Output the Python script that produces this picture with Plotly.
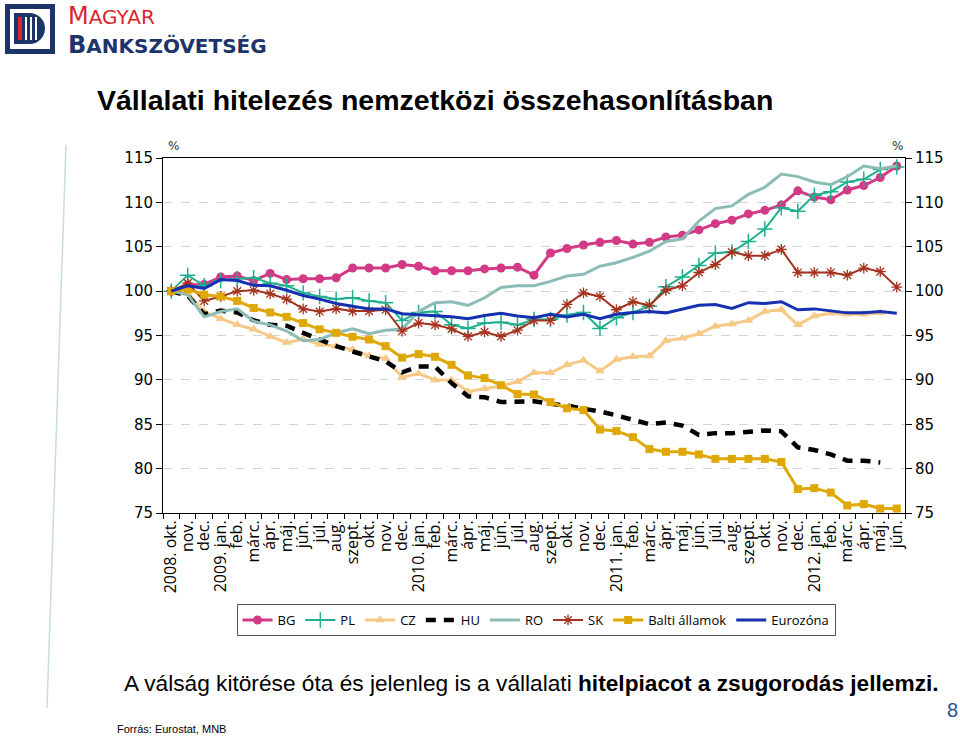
import plotly.graph_objects as go

# ---------------- data ----------------
periods = ["2008-10", "2008-11", "2008-12",
           "2009-01", "2009-02", "2009-03", "2009-04", "2009-05", "2009-06",
           "2009-07", "2009-08", "2009-09", "2009-10", "2009-11", "2009-12",
           "2010-01", "2010-02", "2010-03", "2010-04", "2010-05", "2010-06",
           "2010-07", "2010-08", "2010-09", "2010-10", "2010-11", "2010-12",
           "2011-01", "2011-02", "2011-03", "2011-04", "2011-05", "2011-06",
           "2011-07", "2011-08", "2011-09", "2011-10", "2011-11", "2011-12",
           "2012-01", "2012-02", "2012-03", "2012-04", "2012-05", "2012-06"]

tick_labels = ["2008. okt.", "nov.", "dec.",
               "2009. jan.", "feb.", "márc.", "ápr.", "máj.", "jún.", "júl.", "aug.", "szept.", "okt.", "nov.", "dec.",
               "2010. jan.", "feb.", "márc.", "ápr.", "máj.", "jún.", "júl.", "aug.", "szept.", "okt.", "nov.", "dec.",
               "2011. jan.", "feb.", "márc.", "ápr.", "máj.", "jún.", "júl.", "aug.", "szept.", "okt.", "nov.", "dec.",
               "2012. jan.", "feb.", "márc.", "ápr.", "máj.", "jún."]

BG = [100, 100.7, 100.75, 101.6, 101.7, 101.2, 102.0, 101.3, 101.4, 101.4,
      101.5, 102.6, 102.6, 102.6, 103.0, 102.8, 102.3, 102.3, 102.3, 102.5,
      102.6, 102.7, 101.8, 104.3, 104.8, 105.2, 105.5, 105.7, 105.3, 105.5,
      106.1, 106.3, 106.9, 107.6, 108.0, 108.7, 109.1, 109.7, 111.3, 110.6,
      110.3, 111.4, 111.9, 112.8, 114.1]

PL = [100, 101.8, 100.6, 101.2, 101.4, 101.5, 100.9, 100.6, 99.8, 99.4,
      99.1, 99.25, 98.9, 98.7, 96.7, 97.6, 97.7, 96.2, 95.8, 96.4,
      96.5, 96.2, 96.8, 96.8, 97.3, 97.6, 95.8, 97.0, 97.6, 98.3,
      100.5, 101.6, 102.9, 104.3, 104.4, 105.6, 107.0, 109.4, 109.0, 110.8,
      111.2, 112.3, 112.6, 113.7, 114.0]

CZ = [100, 99.8, 97.7, 96.9, 96.2, 95.7, 94.9, 94.2, 94.6, 94.0,
      93.8, 93.4, 92.7, 92.4, 90.3, 90.7, 90.0, 90.0, 88.7, 89.0,
      89.3, 89.8, 90.8, 90.8, 91.7, 92.2, 91.0, 92.3, 92.6, 92.7,
      94.4, 94.7, 95.2, 96.05, 96.3, 96.7, 97.7, 97.9, 96.2, 97.2,
      97.5, 97.4, 97.4, 97.55, None]

HU = [100, 99.5, 97.4, 97.8, 97.6, 96.7, 96.2, 96.1, 95.3, 94.55,
      93.8, 93.2, 92.7, 92.1, 90.85, 91.5, 91.5, 89.65, 88.15, 88.05,
      87.5, 87.5, 87.6, 87.3, 87.1, 86.75, 86.45, 86.0, 85.45, 85.0,
      85.2, 84.85, 83.8, 84.0, 84.0, 84.1, 84.3, 84.2, 82.4, 82.1,
      81.6, 80.9, 80.9, 80.7, None]

RO = [100, 99.6, 97.1, 97.7, 98.0, 96.6, 96.2, 95.5, 94.4, 94.55,
      95.3, 95.75, 95.2, 95.6, 95.7, 97.7, 98.7, 98.8, 98.4, 99.25,
      100.4, 100.6, 100.6, 101.1, 101.7, 101.9, 102.8, 103.2, 103.8, 104.5,
      105.6, 105.9, 107.9, 109.3, 109.6, 110.9, 111.7, 113.2, 112.9, 112.3,
      112.0, 112.9, 114.1, 113.8, 114.1]

SK = [100, 100.9, 98.9, 99.4, 100.0, 100.1, 99.7, 99.1, 98.0, 97.7,
      98.0, 97.75, 97.75, 97.9, 95.5, 96.4, 96.2, 95.75, 94.9, 95.4,
      94.9, 95.6, 96.7, 96.7, 98.5, 99.8, 99.4, 97.9, 98.8, 98.4,
      100.1, 100.6, 102.1, 103.0, 104.4, 104.0, 104.0, 104.7, 102.1, 102.1,
      102.1, 101.8, 102.6, 102.2, 100.45]

BALTI = [100, 100.2, 99.6, 99.4, 98.9, 98.1, 97.6, 97.1, 96.4, 95.7,
         95.3, 94.85, 94.55, 93.8, 92.5, 92.9, 92.6, 91.7, 90.5, 90.2,
         89.4, 88.4, 88.35, 87.5, 86.8, 86.6, 84.4, 84.25, 83.55, 82.2,
         81.9, 81.9, 81.6, 81.1, 81.1, 81.1, 81.1, 80.75, 77.7, 77.8,
         77.3, 75.85, 76.0, 75.5, 75.5]

EURO = [100, 100.6, 100.3, 101.3, 101.2, 100.65, 100.6, 100.1, 99.5, 99.1,
        98.6, 98.3, 98.0, 98.0, 97.45, 97.35, 97.25, 97.1, 96.9, 97.25,
        97.5, 97.2, 97.0, 97.4, 97.1, 97.4, 96.9, 97.4, 97.6, 97.7,
        97.55, 98.0, 98.4, 98.5, 98.05, 98.7, 98.6, 98.8, 97.9, 98.0,
        97.75, 97.55, 97.55, 97.7, 97.5]

y_ticks = [75, 80, 85, 90, 95, 100, 105, 110, 115]

# ---------------- figure ----------------
fig = go.Figure()

series = [
    ("BG", BG, dict(color="#D23A86", width=3), dict(symbol="circle", size=9, color="#D23A86")),
    ("PL", PL, dict(color="#1FB08E", width=2), dict(symbol="cross-thin", size=11, line=dict(color="#1FB08E", width=1.5))),
    ("CZ", CZ, dict(color="#F7C987", width=3), dict(symbol="triangle-up", size=9, color="#F7C987")),
    ("HU", HU, dict(color="#000000", width=4.5, dash="10px,8px"), None),
    ("RO", RO, dict(color="#8BBDB6", width=3), None),
    ("SK", SK, dict(color="#A4321E", width=2), dict(symbol="asterisk", size=9, line=dict(color="#A4321E", width=1.3))),
    ("Balti államok", BALTI, dict(color="#DFA806", width=3), dict(symbol="square", size=8, color="#DFA806")),
    ("Eurozóna", EURO, dict(color="#1530B0", width=3), None),
]

for name, vals, line, marker in series:
    kw = dict(x=periods, y=vals, name=name, line=line, connectgaps=False)
    if marker is None:
        kw["mode"] = "lines"
    else:
        kw["mode"] = "lines+markers"
        kw["marker"] = marker
    fig.add_trace(go.Scatter(**kw))

# invisible trace for the right-hand axis
fig.add_trace(go.Scatter(x=periods[:1], y=[None], yaxis="y2", showlegend=False, hoverinfo="skip"))

W, H = 960, 738
PLOT_L, PLOT_R, PLOT_T, PLOT_B = 163, 905, 158, 513   # page pixels of the plot area
L, T = PLOT_L, PLOT_T
R, B = W - PLOT_R, H - PLOT_B
PW, PH = W - L - R, H - T - B


def px(x):
    return (x - L) / PW


def py(y):
    return (H - B - y) / PH


fig.update_layout(
    width=W, height=H,
    margin=dict(l=L, r=R, t=T, b=B, autoexpand=False),
    paper_bgcolor="white", plot_bgcolor="white",
    font=dict(family="DejaVu Sans", color="#000"),
    showlegend=True,
    legend=dict(orientation="h", x=px(536), xanchor="center", y=py(620), yanchor="middle",
                bordercolor="#555", borderwidth=1, bgcolor="white",
                font=dict(family="Open Sans", size=13, color="#000"),
                itemwidth=30, tracegroupgap=0),
    xaxis=dict(type="category", categoryorder="array", categoryarray=periods,
               tickmode="array", tickvals=periods, ticktext=tick_labels,
               tickangle=-90, tickson="boundaries", ticks="outside", ticklen=5,
               tickcolor="#000", showline=True, linecolor="#000", linewidth=1,
               mirror=True, showgrid=False, range=[-0.5, len(periods) - 0.5],
               tickfont=dict(family="Open Sans", size=16, color="#000")),
    yaxis=dict(range=[75, 115], tickmode="array", tickvals=y_ticks,
               ticks="outside", ticklen=6, tickcolor="#000",
               showline=True, linecolor="#000", linewidth=1,
               showgrid=True, gridcolor="#d4d4d4", griddash="dash", gridwidth=1,
               zeroline=False, tickfont=dict(family="DejaVu Sans", size=15, color="#000")),
    yaxis2=dict(range=[75, 115], tickmode="array", tickvals=y_ticks, overlaying="y", side="right",
                ticks="outside", ticklen=6, tickcolor="#000",
                showline=True, linecolor="#000", linewidth=1, showgrid=False, zeroline=False,
                tickfont=dict(family="DejaVu Sans", size=15, color="#000")),
)

shapes = []
# decorative thin line at the left
shapes.append(dict(type="line", xref="paper", yref="paper", x0=px(66), y0=py(145), x1=px(47), y1=py(708),
                   line=dict(color="#C9DCE0", width=1.5)))
# logo
navy = "#1C3468"
red = "#D9262E"
shapes.append(dict(type="rect", xref="paper", yref="paper", x0=px(5), y0=py(4), x1=px(55), y1=py(54),
                   fillcolor=navy, line=dict(width=0)))
shapes.append(dict(type="rect", xref="paper", yref="paper", x0=px(10), y0=py(9), x1=px(50), y1=py(49),
                   fillcolor="white", line=dict(width=0)))
shapes.append(dict(type="circle", xref="paper", yref="paper", x0=px(14), y0=py(13), x1=px(45), y1=py(44),
                   fillcolor=navy, line=dict(width=0)))
shapes.append(dict(type="rect", xref="paper", yref="paper", x0=px(14), y0=py(13), x1=px(28), y1=py(44),
                   fillcolor=navy, line=dict(width=0)))
shapes.append(dict(type="rect", xref="paper", yref="paper", x0=px(18), y0=py(17), x1=px(22), y1=py(40),
                   fillcolor=red, line=dict(width=0)))
for xx in (25, 30, 35):
    shapes.append(dict(type="rect", xref="paper", yref="paper", x0=px(xx), y0=py(17), x1=px(xx + 2), y1=py(40),
                       fillcolor="white", line=dict(width=0)))
fig.update_layout(shapes=shapes)

ann = []
ann.append(dict(xref="paper", yref="paper", x=px(66), y=py(16), xanchor="left", yanchor="middle",
                text=f'<span style="font-size:24px">M</span>AGYAR', showarrow=False,
                font=dict(family="DejaVu Sans", size=20, color=red)))
ann.append(dict(xref="paper", yref="paper", x=px(66), y=py(45), xanchor="left", yanchor="middle",
                text=f'<b><span style="font-size:24px">B</span>ANKSZÖVETSÉG</b>', showarrow=False,
                font=dict(family="DejaVu Sans", size=20, color=navy)))
ann.append(dict(xref="paper", yref="paper", x=px(95), y=py(100), xanchor="left", yanchor="middle",
                text="<b>Vállalati hitelezés nemzetközi összehasonlításban</b>", showarrow=False,
                font=dict(family="Liberation Sans", size=28.5, color="#000")))
ann.append(dict(xref="paper", yref="paper", x=px(173), y=py(146), xanchor="center", yanchor="middle",
                text="%", showarrow=False, font=dict(family="DejaVu Sans", size=12, color="#333")))
ann.append(dict(xref="paper", yref="paper", x=px(897), y=py(146), xanchor="center", yanchor="middle",
                text="%", showarrow=False, font=dict(family="DejaVu Sans", size=12, color="#333")))
ann.append(dict(xref="paper", yref="paper", x=px(531), y=py(683), xanchor="center", yanchor="middle",
                text="A válság kitörése óta és jelenleg is a vállalati <b>hitelpiacot a zsugorodás jellemzi.</b>",
                showarrow=False, font=dict(family="Liberation Sans", size=22.7, color="#000")))
ann.append(dict(xref="paper", yref="paper", x=px(115), y=py(729), xanchor="left", yanchor="middle",
                text="Forrás: Eurostat, MNB", showarrow=False,
                font=dict(family="Liberation Sans", size=11, color="#000")))
ann.append(dict(xref="paper", yref="paper", x=px(952), y=py(710), xanchor="center", yanchor="middle",
                text="8", showarrow=False, font=dict(family="Liberation Sans", size=20, color="#2A5298")))
fig.update_layout(annotations=ann)

fig.write_html("out.html", config={"displayModeBar": False},
               post_script="document.body.style.margin='0';document.body.style.overflow='hidden';")
